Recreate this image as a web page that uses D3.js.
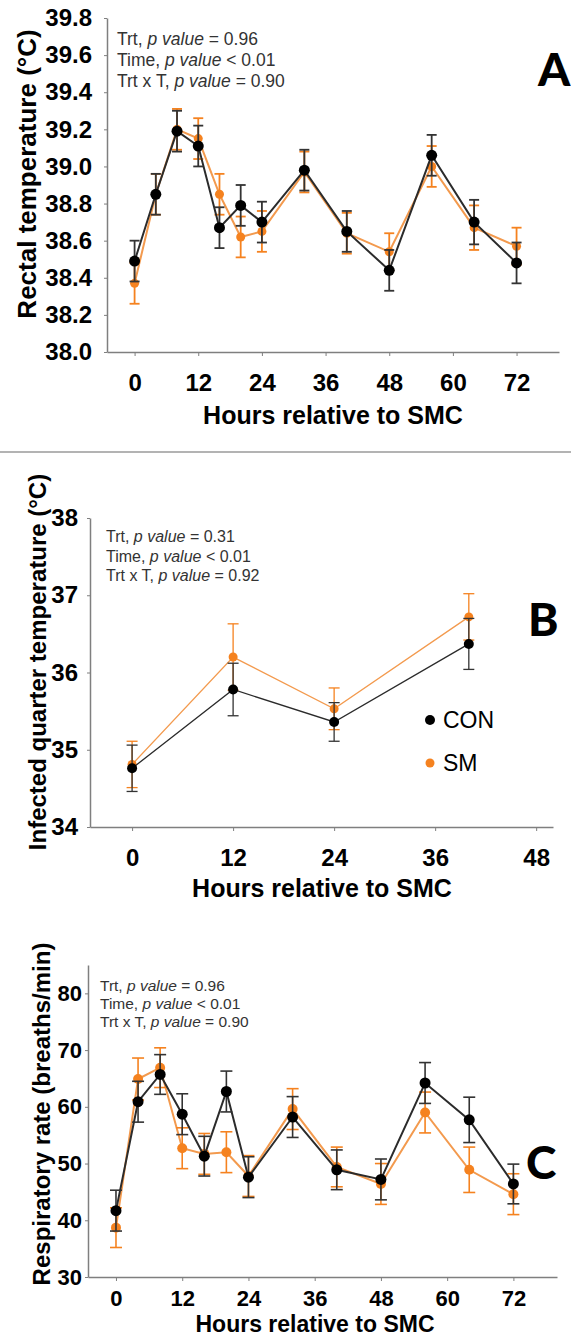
<!DOCTYPE html>
<html>
<head>
<meta charset="utf-8">
<script src="https://cdn.jsdelivr.net/npm/d3@7"></script>
<style>
  body { margin: 0; background: #fff; }
  text { font-family: "Liberation Sans", Arial, sans-serif; }
</style>
</head>
<body>
<svg id="chart"></svg>
<script>
// Panel A - rectal temperature
const hoursA = [0, 4, 8, 12, 16, 20, 24, 32, 40, 48, 56, 64, 72];
const conA = [38.49, 38.85, 39.19, 39.11, 38.67, 38.79, 38.70, 38.98, 38.65, 38.44, 39.06, 38.70, 38.48];
const conErrA = [0.11, 0.11, 0.11, 0.11, 0.11, 0.11, 0.11, 0.11, 0.11, 0.11, 0.11, 0.12, 0.11];
const smA = [38.37, 38.85, 39.20, 39.15, 38.85, 38.62, 38.65, 38.97, 38.64, 38.54, 39.00, 38.67, 38.57];
const smErrA = [0.11, 0.11, 0.11, 0.11, 0.11, 0.11, 0.11, 0.11, 0.11, 0.10, 0.11, 0.12, 0.10];
const hourTicksA = [0, 12, 24, 36, 48, 60, 72];
const yTicksA = [38.0, 38.2, 38.4, 38.6, 38.8, 39.0, 39.2, 39.4, 39.6, 39.8];
const statsA = ["= 0.96", "< 0.01", "= 0.90"];

// Panel B - infected quarter temperature
const hoursB = [0, 12, 24, 40];
const conB = [34.76, 35.78, 35.36, 36.37];
const conErrB = [0.30, 0.34, 0.25, 0.33];
const smB = [34.81, 36.20, 35.53, 36.72];
const smErrB = [0.30, 0.43, 0.27, 0.30];
const hourTicksB = [0, 12, 24, 36, 48];
const yTicksB = [34, 35, 36, 37, 38];
const statsB = ["= 0.31", "< 0.01", "= 0.92"];

// Panel C - respiratory rate
const hoursC = [0, 4, 8, 12, 16, 20, 24, 32, 40, 48, 56, 64, 72];
const conC = [41.7, 60.9, 65.7, 58.7, 51.3, 62.7, 47.6, 58.2, 48.9, 47.2, 64.2, 57.7, 46.4];
const conErrC = [3.6, 3.6, 3.5, 3.6, 3.5, 3.6, 3.6, 3.6, 3.5, 3.6, 3.6, 4.0, 3.5];
const smC = [38.7, 64.9, 66.9, 52.7, 51.7, 52.0, 47.8, 59.6, 49.4, 46.4, 59.0, 48.9, 44.6];
const smErrC = [3.5, 3.7, 3.5, 3.6, 3.6, 3.6, 3.6, 3.6, 3.5, 3.6, 3.6, 4.0, 3.6];
const hourTicksC = [0, 12, 24, 36, 48, 60, 72];
const yTicksC = [30, 40, 50, 60, 70, 80];
const statsC = ["= 0.96", "< 0.01", "= 0.90"];

const statNames = ["Trt, ", "Time, ", "Trt x T, "];
const seriesNames = ["CON", "SM"];

const conColor = "#000000";
const conLine = "#2b2b2b";
const smColor = "#f5821f";
const smLine = "#f39a4e";
const axisColor = "#7f7f7f";

const svg = d3.select("#chart")
    .attr("width", 571)
    .attr("height", 1339)
    .style("background", "#ffffff");

function drawPanel(p) {
  const x = d3.scaleLinear().domain(p.xDomain).range(p.xRange);
  const y = d3.scaleLinear().domain(p.yDomain).range(p.yRange);
  const g = svg.append("g");

  // x axis
  const xa = g.append("g")
      .attr("transform", "translate(0," + p.yRange[0] + ")")
      .call(d3.axisBottom(x).tickValues(p.xTicks).tickSize(4).tickPadding(p.xPad).tickSizeOuter(0));
  xa.selectAll("text")
      .style("font-size", p.tickFont + "px")
      .style("font-weight", "bold")
      .style("fill", "#000");

  // y axis
  const ya = g.append("g")
      .attr("transform", "translate(" + p.xRange[0] + ",0)")
      .call(d3.axisLeft(y).tickValues(p.yTicks).tickFormat(p.yFormat).tickSize(3).tickPadding(p.yPad).tickSizeOuter(0));
  ya.selectAll("text")
      .style("font-size", p.yTickFont + "px")
      .style("font-weight", "bold")
      .style("fill", "#000");

  g.selectAll(".domain").attr("stroke", axisColor).attr("stroke-width", 1.5);
  g.selectAll(".tick line").attr("stroke", axisColor).attr("stroke-width", 1);

  // axis titles
  g.append("text")
      .attr("x", p.xTitle[0])
      .attr("y", p.xTitle[1])
      .attr("text-anchor", "middle")
      .style("font-size", p.titleFont + "px")
      .style("font-weight", "bold")
      .text("Hours relative to SMC");

  g.append("text")
      .attr("transform", "translate(" + p.yTitle[0] + "," + p.yTitle[1] + ") rotate(-90)")
      .attr("text-anchor", "middle")
      .attr("dy", "0.35em")
      .style("font-size", p.yTitleFont + "px")
      .style("font-weight", "bold")
      .text(p.yLabel);

  // stats text
  p.stats.forEach(function(s, i) {
    const t = g.append("text")
        .attr("x", p.statPos[0])
        .attr("y", p.statPos[1] + i * p.statGap)
        .style("font-size", p.statFont + "px")
        .style("fill", "#333");
    t.append("tspan").text(statNames[i]);
    t.append("tspan").style("font-style", "italic").text("p value");
    t.append("tspan").text(" " + s);
  });

  // panel letter
  g.append("text")
      .attr("x", p.letterPos[0])
      .attr("y", p.letterPos[1])
      .style("font-family", "Lato, 'Open Sans', sans-serif")
      .style("font-size", "46px")
      .style("font-weight", "900")
      .text(p.letter);

  // series: SM first, CON on top
  const series = [
    { vals: p.sm, errs: p.smErr, color: smColor, line: smLine, r: p.rSm, lw: p.lwSm, ec: smColor },
    { vals: p.con, errs: p.conErr, color: conColor, line: conLine, r: p.rCon, lw: p.lwCon, ec: "#333" }
  ];

  series.forEach(function(s) {
    const pts = p.hours.map((h, i) => ({ h: h, v: s.vals[i], e: s.errs[i] }));
    const line = d3.line().x(d => x(d.h)).y(d => y(d.v));

    g.append("path")
        .datum(pts)
        .attr("d", line)
        .attr("fill", "none")
        .attr("stroke", s.line)
        .attr("stroke-width", s.lw);

    const eb = g.append("g")
        .attr("stroke", s.ec)
        .attr("stroke-width", p.ebw);
    eb.selectAll(".bar")
        .data(pts)
        .enter().append("line")
        .attr("x1", d => x(d.h)).attr("x2", d => x(d.h))
        .attr("y1", d => y(d.v - d.e)).attr("y2", d => y(d.v + d.e));
    eb.selectAll(".capT")
        .data(pts)
        .enter().append("line")
        .attr("x1", d => x(d.h) - p.cap).attr("x2", d => x(d.h) + p.cap)
        .attr("y1", d => y(d.v + d.e)).attr("y2", d => y(d.v + d.e));
    eb.selectAll(".capB")
        .data(pts)
        .enter().append("line")
        .attr("x1", d => x(d.h) - p.cap).attr("x2", d => x(d.h) + p.cap)
        .attr("y1", d => y(d.v - d.e)).attr("y2", d => y(d.v - d.e));

    g.selectAll(null)
        .data(pts)
        .enter().append("circle")
        .attr("cx", d => x(d.h))
        .attr("cy", d => y(d.v))
        .attr("r", s.r)
        .attr("fill", s.color);
  });

  // legend (panel B only)
  if (p.legend) {
    seriesNames.forEach(function(n, i) {
      g.append("circle")
          .attr("cx", p.legend[0])
          .attr("cy", p.legend[1] + i * 43)
          .attr("r", i === 0 ? 5 : 4.5)
          .attr("fill", i === 0 ? conColor : smColor);
      g.append("text")
          .attr("x", p.legend[0] + 13)
          .attr("y", p.legend[1] + i * 43)
          .attr("dy", "0.36em")
          .style("font-size", "23px")
          .text(n);
    });
  }
}

drawPanel({
  hours: hoursA, con: conA, conErr: conErrA, sm: smA, smErr: smErrA,
  xDomain: [-5.2, 80], xRange: [107, 559], yDomain: [38, 39.8], yRange: [352, 18],
  xTicks: hourTicksA, yTicks: yTicksA, yFormat: d3.format(".1f"),
  xPad: 18, yPad: 12, tickFont: 24, yTickFont: 24,
  xTitle: [333, 424], titleFont: 25,
  yTitle: [27, 174], yTitleFont: 26, yLabel: "Rectal temperature (°C)",
  stats: statsA, statPos: [117, 45], statGap: 21, statFont: 17.5,
  letter: "A", letterPos: [538, 86],
  rCon: 5.5, rSm: 4.5, lwCon: 2, lwSm: 2, ebw: 1.8, cap: 5
});

drawPanel({
  hours: hoursB, con: conB, conErr: conErrB, sm: smB, smErr: smErrB,
  xDomain: [-5, 50], xRange: [90, 553], yDomain: [34, 38], yRange: [827, 518],
  xTicks: hourTicksB, yTicks: yTicksB, yFormat: d3.format("d"),
  xPad: 18, yPad: 9, tickFont: 24, yTickFont: 24,
  xTitle: [322, 897], titleFont: 25,
  yTitle: [38, 662], yTitleFont: 24, yLabel: "Infected quarter temperature (°C)",
  stats: statsB, statPos: [106, 542], statGap: 19.5, statFont: 16,
  letter: "B", letterPos: [528, 636],
  rCon: 5, rSm: 4.5, lwCon: 1.3, lwSm: 1.3, ebw: 1.3, cap: 5.5,
  legend: [430, 720]
});

drawPanel({
  hours: hoursC, con: conC, conErr: conErrC, sm: smC, smErr: smErrC,
  xDomain: [-5.07, 79.9], xRange: [88, 557], yDomain: [30, 85], yRange: [1277, 965],
  xTicks: hourTicksC, yTicks: yTicksC, yFormat: d3.format("d"),
  xPad: 9, yPad: 3, tickFont: 22, yTickFont: 22,
  xTitle: [315, 1332], titleFont: 23,
  yTitle: [42, 1114], yTitleFont: 24, yLabel: "Respiratory rate (breaths/min)",
  stats: statsC, statPos: [100, 991], statGap: 18, statFont: 15.5,
  letter: "C", letterPos: [526, 1179],
  rCon: 5.5, rSm: 5, lwCon: 2, lwSm: 2, ebw: 1.6, cap: 6
});

// separator between panels A and B
svg.append("line")
    .attr("x1", 0).attr("x2", 571)
    .attr("y1", 452).attr("y2", 452)
    .attr("stroke", "#9a9a9a")
    .attr("stroke-width", 1.5);
</script>
</body>
</html>
